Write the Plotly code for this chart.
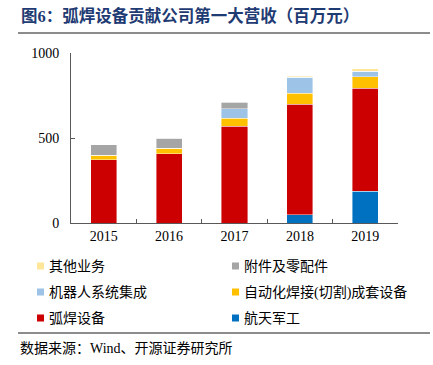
import plotly.graph_objects as go

years = ["2015", "2016", "2017", "2018", "2019"]
aerospace = [0, 0, 0, 49, 188]
arc_welding = [372, 408, 568, 649, 604]
auto_welding = [28, 31, 47, 64, 69]
robot_integration = [0, 0, 57, 95, 31]
accessories = [59, 59, 38, 0, 0]
other_business = [2, 2, 4, 5, 14]

series_names = ["航天军工", "弧焊设备", "自动化焊接(切割)成套设备", "机器人系统集成", "附件及零配件", "其他业务"]
series_values = [aerospace, arc_welding, auto_welding, robot_integration, accessories, other_business]
series_colors = ["#0070C0", "#CC0000", "#FFC000", "#9DC3E6", "#A5A5A5", "#FFE699"]
y_ticks = [0, 500, 1000]

W, H = 433, 365
L, R, T, B = 71, 35, 53, 142
PW, PH = W - L - R, H - T - B

def px_x(p):
    return (p - L) / PW

def px_y(p):
    return (H - B - p) / PH

CJK = "Noto Sans CJK SC"
SERIF = "Liberation Serif, Times New Roman, serif"
MIX = "Liberation Serif, Noto Sans CJK SC"

fig = go.Figure()
for name, vals, col in zip(series_names, series_values, series_colors):
    fig.add_trace(go.Bar(
        x=years, y=vals, name=name,
        marker=dict(color=col, line=dict(color="rgba(255,255,255,0.7)", width=0.6)),
        showlegend=False,
    ))

fig.update_layout(
    width=W, height=H,
    margin=dict(l=L, r=R, t=T, b=B, pad=0),
    barmode="stack", bargap=0.6,
    paper_bgcolor="white", plot_bgcolor="white",
    font=dict(family=SERIF, size=14, color="#000000"),
)
fig.update_xaxes(
    showline=True, linecolor="#595959", linewidth=1,
    ticks="inside", tickson="boundaries", ticklen=4, tickcolor="#595959",
    tickfont=dict(family=SERIF, size=14, color="#000"),
    showgrid=False, zeroline=False,
)
fig.update_yaxes(
    range=[0, 1000], tickvals=y_ticks,
    showline=True, linecolor="#595959", linewidth=1,
    ticks="inside", ticklen=4, tickcolor="#595959",
    tickfont=dict(family=SERIF, size=14, color="#000"),
    ticklabelstandoff=8,
    showgrid=False, zeroline=False,
)

# title
fig.add_annotation(
    text="<b>图6：弧焊设备贡献公司第一大营收（百万元）</b>",
    xref="paper", yref="paper", x=px_x(19), y=px_y(16),
    xanchor="left", yanchor="middle", showarrow=False,
    font=dict(family="Liberation Serif, " + CJK, size=16.5, color="#1F3B73"),
)
# separator lines
fig.add_shape(type="line", xref="paper", yref="paper",
              x0=px_x(18), x1=px_x(430), y0=px_y(33), y1=px_y(33),
              line=dict(color="#8C8C8C", width=2))
fig.add_shape(type="line", xref="paper", yref="paper",
              x0=px_x(18), x1=px_x(430), y0=px_y(333), y1=px_y(333),
              line=dict(color="#8C8C8C", width=2))

# legend (manual, two columns)
legend_order = [5, 4, 3, 2, 1, 0]
col_x = [37, 232]
row_y = [266, 292, 318]
for k, idx in enumerate(legend_order):
    r, c = k // 2, k % 2
    x0 = col_x[c]
    yc = row_y[r]
    fig.add_shape(type="rect", xref="paper", yref="paper",
                  x0=px_x(x0), x1=px_x(x0 + 7), y0=px_y(yc - 3.5), y1=px_y(yc + 3.5),
                  fillcolor=series_colors[idx], line=dict(width=0))
    fig.add_annotation(
        text=series_names[idx], xref="paper", yref="paper",
        x=px_x(x0 + 10), y=px_y(yc), xanchor="left", yanchor="middle",
        showarrow=False, font=dict(family=MIX, size=14, color="#000"),
    )

# source
fig.add_annotation(
    text="数据来源：Wind、开源证券研究所", xref="paper", yref="paper",
    x=px_x(18), y=px_y(348), xanchor="left", yanchor="middle",
    showarrow=False, font=dict(family=MIX, size=14, color="#000"),
)

fig.write_html("out.html", config={"displayModeBar": False},
               post_script="document.body.style.margin='0';")
